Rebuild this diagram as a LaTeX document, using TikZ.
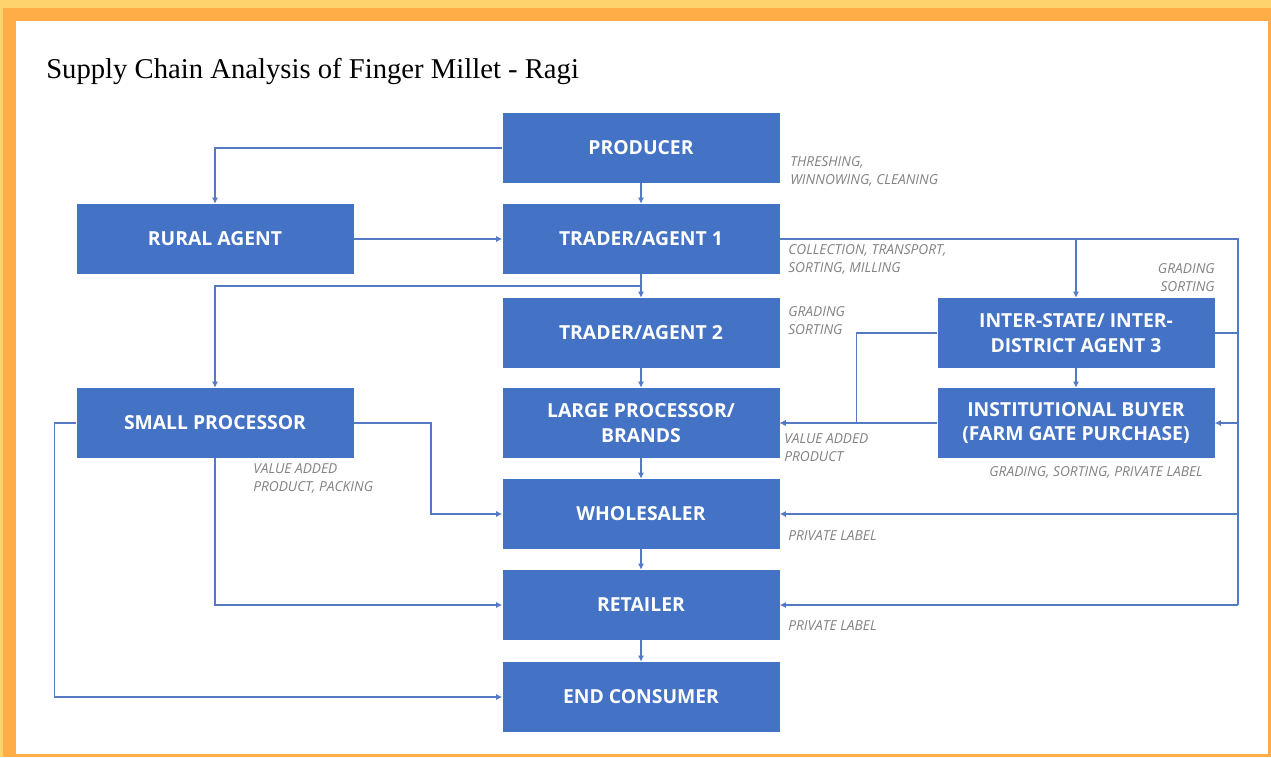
\documentclass[tikz,border=0pt]{standalone}
\usepackage{fontspec}
\setmainfont{Liberation Serif}
\newfontfamily\boxfont{Open Sans}
\usetikzlibrary{arrows.meta}
\definecolor{boxblue}{RGB}{68,114,196}
\definecolor{lineblue}{RGB}{84,122,196}
\definecolor{notegray}{RGB}{130,130,130}
\definecolor{frameyellow}{RGB}{255,211,107}
\definecolor{frameorange}{RGB}{255,173,71}

\begin{document}
\begin{tikzpicture}[x=0.75pt,y=-0.75pt,
  stage/.style={fill=boxblue,text=white,minimum width=207.75pt,minimum height=52.5pt,
    inner sep=0pt,align=center,font=\boxfont\bfseries\fontsize{14.5}{18.5}\selectfont},
  note/.style={text=notegray,inner sep=0pt,align=left,anchor=north west,
    font=\boxfont\itshape\fontsize{10.3}{14}\selectfont},
  link/.style={draw=lineblue,line width=1.1pt},
  arr/.style={link,-{Latex[length=4.5pt,width=4.5pt]}}]
% frame
\fill[frameyellow] (0,0) rectangle (1271,757);
\fill[frameorange] (3,8) rectangle (1271,757);
\fill[white] (16,21) rectangle (1268,754);
\node[anchor=base west,inner sep=0pt,font=\fontsize{21.5}{24}\selectfont] (title) at (46,78)
  {Supply Chain Analysis of Finger Millet - Ragi};
% stages
\node[stage] (prod) at (641,148) {PRODUCER};
\node[stage] (rural) at (215,239) {RURAL AGENT};
\node[stage] (tr1) at (641,239) {TRADER/AGENT 1};
\node[stage] (tr2) at (641,333) {TRADER/AGENT 2};
\node[stage] (ist) at (1076,333) {INTER-STATE/ INTER-\\DISTRICT AGENT 3};
\node[stage] (small) at (215,423) {SMALL PROCESSOR};
\node[stage] (large) at (641,423) {LARGE PROCESSOR/\\BRANDS};
\node[stage] (inst) at (1076,423) {INSTITUTIONAL BUYER\\(FARM GATE PURCHASE)};
\node[stage] (whole) at (641,514) {WHOLESALER};
\node[stage] (retail) at (641,605) {RETAILER};
\node[stage] (endc) at (641,697) {END CONSUMER};
\coordinate (split) at (641,286); % below trader 1
\coordinate (rtop) at (1238,239); % right trunk
% main chain
\draw[arr] (prod.west) -| (rural.north);
\draw[arr] (prod) -- (tr1);
\draw[arr] (rural) -- (tr1);
\draw[link] (tr1.south) -- (split);
\draw[arr] (split) -| (small.north);
\draw[arr] (split) -- (tr2.north);
\draw[arr] (tr2) -- (large);
\draw[arr] (large) -- (whole);
\draw[arr] (whole) -- (retail);
\draw[arr] (retail) -- (endc);
% right side
\draw[link] (tr1.east) -- (rtop) -- (rtop |- retail.east);
\draw[arr] (tr1.east -| ist.north) -- (ist.north);
\draw[arr] (ist) -- (inst);
\draw[link] (ist.east) -- (rtop |- ist.east);
\draw[arr] (rtop |- inst.east) -- (inst.east);
\draw[arr] (rtop |- whole.east) -- (whole.east);
\draw[arr] (rtop |- retail.east) -- (retail.east);
\draw[arr] (ist.west) -- ++(-81,0) |- (large.east);
\draw[arr] (inst.west) -- (large.east);
% small processor
\draw[arr] (small.east) -- ++(77,0) |- (whole.west);
\draw[arr] (small.south) |- (retail.west);
\draw[arr] (small.west) -- ++(-22,0) |- (endc.west);
% notes
\node[note] (n1) at (790,156) {THRESHING,\\WINNOWING, CLEANING};
\node[note] (n2) at (788,244) {COLLECTION, TRANSPORT,\\SORTING, MILLING};
\node[note,anchor=north east,align=right] (n3) at (1215,263) {GRADING\\SORTING};
\node[note] (n4) at (788,306) {GRADING\\SORTING};
\node[note] (n5) at (784,433) {VALUE ADDED\\PRODUCT};
\node[note,anchor=north] (n6) at (1096,466) {GRADING, SORTING, PRIVATE LABEL};
\node[note] (n7) at (253,463) {VALUE ADDED\\PRODUCT, PACKING};
\node[note] (n8) at (788,530) {PRIVATE LABEL};
\node[note] (n9) at (788,620) {PRIVATE LABEL};
\end{tikzpicture}
\end{document}
